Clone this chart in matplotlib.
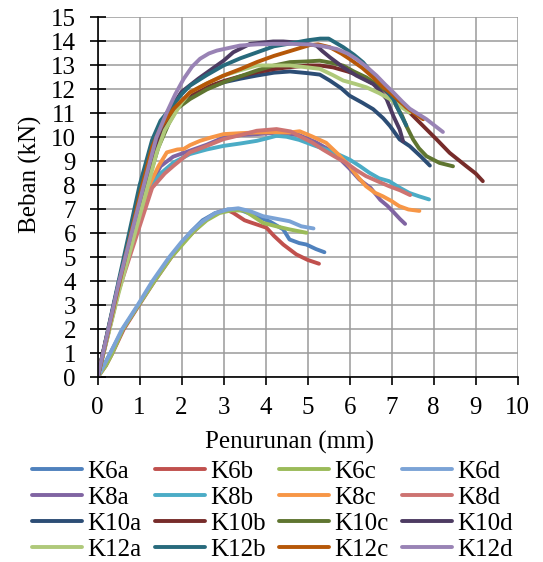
import matplotlib
matplotlib.use("Agg")
import matplotlib.pyplot as plt

plt.rcParams['font.family'] = ['Liberation Serif', 'DejaVu Serif']

# data: displacement (mm) and load (kN)
k6a_x = [0, 0.15, 0.3, 0.6, 0.97, 1.33, 1.73, 2.0, 2.24, 2.5, 2.8, 3.1, 3.4, 3.78, 4.1, 4.42, 4.57, 4.8, 4.97, 5.2, 5.4]
k6a_y = [0, 0.5, 1.0, 2.0, 3.0, 4.0, 5.0, 5.6, 6.1, 6.55, 6.85, 7.0, 6.98, 6.72, 6.5, 6.17, 5.75, 5.6, 5.54, 5.35, 5.22]
k6b_x = [0, 0.2, 0.35, 0.62, 0.98, 1.35, 1.75, 2.0, 2.3, 2.6, 2.9, 3.1, 3.23, 3.5, 3.63, 4.02, 4.2, 4.42, 4.73, 5.0, 5.27]
k6b_y = [0, 0.5, 1.0, 2.0, 3.0, 4.0, 5.0, 5.55, 6.1, 6.6, 6.9, 6.97, 6.86, 6.55, 6.47, 6.24, 5.9, 5.54, 5.13, 4.9, 4.74]
k6c_x = [0, 0.2, 0.35, 0.6, 0.97, 1.35, 1.75, 2.05, 2.3, 2.6, 2.9, 3.2, 3.5, 3.94, 4.3, 4.57, 4.97]
k6c_y = [0, 0.5, 1.0, 2.0, 3.0, 4.0, 5.0, 5.6, 6.1, 6.55, 6.85, 6.97, 6.95, 6.44, 6.28, 6.17, 6.03]
k6d_x = [0, 0.15, 0.3, 0.58, 0.95, 1.3, 1.7, 2.0, 2.24, 2.5, 2.8, 3.1, 3.35, 3.63, 3.94, 4.3, 4.57, 4.85, 5.14]
k6d_y = [0, 0.5, 1.0, 2.0, 3.0, 4.0, 5.0, 5.65, 6.1, 6.5, 6.85, 7.0, 7.05, 6.93, 6.72, 6.6, 6.51, 6.3, 6.21]

k8a_x = [0, 0.5, 1.2, 1.5, 1.8, 2.2, 2.6, 3.0, 3.4, 3.79, 4.3, 4.8, 5.2, 5.6, 6.0, 6.23, 6.5, 6.73, 6.9, 7.04, 7.2, 7.32]
k8a_y = [0, 3.6, 7.8, 8.8, 9.2, 9.45, 9.7, 10.0, 10.1, 10.14, 10.2, 10.1, 9.8, 9.4, 8.7, 8.25, 7.9, 7.4, 7.15, 6.9, 6.6, 6.4]
k8b_x = [0, 0.5, 1.28, 1.5, 1.81, 2.2, 2.6, 3.0, 3.4, 3.79, 4.0, 4.26, 4.5, 4.8, 5.2, 5.6, 6.0, 6.25, 6.47, 6.7, 6.94, 7.2, 7.42, 7.65, 7.89]
k8b_y = [0, 3.7, 8.0, 8.5, 8.96, 9.31, 9.5, 9.65, 9.75, 9.86, 9.95, 10.07, 10.03, 9.9, 9.64, 9.4, 9.08, 8.8, 8.53, 8.3, 8.18, 7.9, 7.69, 7.55, 7.42]
k8c_x = [0, 0.5, 1.2, 1.45, 1.65, 1.9, 2.05, 2.2, 2.44, 2.7, 3.0, 3.4, 3.79, 4.2, 4.58, 4.81, 5.1, 5.44, 5.7, 6.0, 6.2, 6.39, 6.6, 6.79, 7.0, 7.18, 7.4, 7.66]
k8c_y = [0, 3.7, 7.9, 8.8, 9.38, 9.5, 9.52, 9.68, 9.86, 10.0, 10.14, 10.18, 10.21, 10.22, 10.21, 10.26, 10.05, 9.78, 9.35, 8.8, 8.35, 7.97, 7.7, 7.55, 7.35, 7.14, 7.0, 6.94]
k8d_x = [0, 0.5, 1.3, 1.6, 1.81, 2.2, 2.6, 3.0, 3.4, 3.79, 4.26, 4.6, 4.81, 5.1, 5.36, 5.65, 5.92, 6.15, 6.39, 6.7, 6.94, 7.2, 7.44]
k8d_y = [0, 3.6, 7.9, 8.5, 8.82, 9.38, 9.65, 9.93, 10.1, 10.28, 10.35, 10.25, 10.05, 9.8, 9.5, 9.2, 8.94, 8.65, 8.39, 8.15, 7.97, 7.8, 7.6]

k10a_x = [0, 0.5, 1.05, 1.4, 1.7, 2.0, 2.2, 2.6, 3.0, 3.4, 3.79, 4.2, 4.58, 5.0, 5.29, 5.53, 5.8, 6.0, 6.3, 6.56, 6.8, 6.96, 7.19, 7.43, 7.7, 7.91]
k10a_y = [0, 3.9, 7.9, 9.8, 10.9, 11.45, 11.74, 12.05, 12.3, 12.45, 12.58, 12.7, 12.75, 12.68, 12.62, 12.37, 12.05, 11.74, 11.45, 11.18, 10.8, 10.48, 9.92, 9.64, 9.2, 8.83]
k10b_x = [0, 0.5, 1.1, 1.4, 1.7, 2.0, 2.2, 2.6, 3.0, 3.4, 3.79, 4.2, 4.58, 5.0, 5.3, 5.61, 5.95, 6.24, 6.5, 6.8, 7.1, 7.43, 7.75, 8.07, 8.38, 8.78, 9.0, 9.17]
k10b_y = [0, 3.8, 7.9, 9.7, 10.85, 11.5, 11.8, 12.1, 12.35, 12.55, 12.72, 12.85, 12.93, 13.0, 13.0, 12.92, 12.75, 12.58, 12.3, 12.02, 11.55, 11.04, 10.48, 9.92, 9.36, 8.8, 8.5, 8.18]
k10c_x = [0, 0.5, 1.1, 1.45, 1.7, 1.89, 2.2, 2.6, 3.0, 3.4, 3.79, 4.2, 4.58, 5.0, 5.29, 5.6, 5.85, 6.1, 6.4, 6.65, 6.88, 7.0, 7.11, 7.25, 7.35, 7.51, 7.65, 7.83, 8.14, 8.46]
k10c_y = [0, 3.7, 7.6, 9.6, 10.6, 11.2, 11.6, 12.0, 12.3, 12.55, 12.79, 13.0, 13.14, 13.17, 13.2, 13.1, 12.99, 12.75, 12.5, 12.2, 11.95, 11.7, 11.32, 10.9, 10.48, 9.92, 9.55, 9.22, 8.94, 8.8]
k10d_x = [0, 0.5, 1.05, 1.4, 1.7, 2.0, 2.4, 2.8, 3.0, 3.23, 3.63, 4.18, 4.42, 4.8, 5.21, 5.35, 5.53, 5.85, 6.16, 6.56, 6.72, 6.88, 7.04, 7.19, 7.27]
k10d_y = [0, 3.9, 7.9, 9.9, 11.1, 11.9, 12.45, 12.95, 13.2, 13.55, 13.9, 14.0, 14.0, 13.95, 13.83, 13.6, 13.34, 12.92, 12.58, 12.23, 11.95, 11.6, 10.9, 10.34, 9.85]

k12a_x = [0, 0.5, 1.2, 1.41, 1.6, 1.81, 2.0, 2.2, 2.6, 3.0, 3.4, 3.79, 4.2, 4.58, 5.0, 5.29, 5.6, 5.85, 6.1, 6.4, 6.7, 6.96, 7.2, 7.43]
k12a_y = [0, 3.5, 8.0, 9.38, 10.3, 10.9, 11.45, 11.88, 12.25, 12.58, 12.8, 13.0, 13.0, 13.0, 12.92, 12.86, 12.6, 12.37, 12.25, 12.09, 11.85, 11.6, 11.3, 11.04]
k12b_x = [0, 0.5, 1.0, 1.3, 1.5, 1.73, 2.0, 2.2, 2.6, 3.0, 3.4, 3.8, 4.2, 4.6, 5.0, 5.3, 5.5, 5.85, 6.1, 6.32, 6.5, 6.72, 6.9, 7.04, 7.19, 7.35]
k12b_y = [0, 4.0, 8.0, 9.9, 10.7, 11.2, 11.8, 12.16, 12.6, 13.0, 13.3, 13.55, 13.8, 13.92, 14.05, 14.12, 14.12, 13.76, 13.45, 13.13, 12.75, 12.3, 11.9, 11.6, 11.04, 10.5]
k12c_x = [0, 0.5, 1.05, 1.3, 1.5, 1.81, 2.2, 2.6, 3.0, 3.4, 3.79, 4.2, 4.58, 5.05, 5.25, 5.53, 5.8, 6.0, 6.3, 6.56, 6.8, 6.96, 7.2, 7.35, 7.55, 7.75]
k12c_y = [0, 3.8, 7.9, 9.6, 10.4, 11.19, 11.88, 12.25, 12.58, 12.85, 13.14, 13.4, 13.6, 13.85, 13.88, 13.76, 13.5, 13.27, 12.9, 12.5, 12.1, 11.88, 11.5, 11.25, 11.0, 10.76]
k12d_x = [0, 0.5, 1.1, 1.4, 1.65, 1.85, 2.05, 2.25, 2.44, 2.65, 2.84, 3.1, 3.39, 3.8, 4.18, 4.6, 5.0, 5.3, 5.69, 5.95, 6.16, 6.4, 6.64, 6.85, 7.04, 7.25, 7.43, 7.63, 7.83, 8.02, 8.22]
k12d_y = [0, 3.9, 8.0, 10.0, 11.05, 11.8, 12.44, 12.95, 13.28, 13.5, 13.62, 13.72, 13.83, 13.88, 13.9, 13.9, 13.88, 13.82, 13.69, 13.5, 13.27, 12.95, 12.58, 12.2, 11.88, 11.5, 11.2, 10.98, 10.76, 10.5, 10.23]

names = ['K6a', 'K6b', 'K6c', 'K6d', 'K8a', 'K8b', 'K8c', 'K8d',
         'K10a', 'K10b', 'K10c', 'K10d', 'K12a', 'K12b', 'K12c', 'K12d']
xs = [k6a_x, k6b_x, k6c_x, k6d_x, k8a_x, k8b_x, k8c_x, k8d_x,
      k10a_x, k10b_x, k10c_x, k10d_x, k12a_x, k12b_x, k12c_x, k12d_x]
ys = [k6a_y, k6b_y, k6c_y, k6d_y, k8a_y, k8b_y, k8c_y, k8d_y,
      k10a_y, k10b_y, k10c_y, k10d_y, k12a_y, k12b_y, k12c_y, k12d_y]
colors = ['#4F81BD', '#C0504D', '#9BBB59', '#7BA3D6', '#8064A2', '#4BACC6', '#F79646', '#CD7371',
          '#2C4D75', '#772C2A', '#5F7530', '#4D3B62', '#AFC97A', '#276A7C', '#B65708', '#9983B5']

fig = plt.figure(figsize=(5.43, 5.62), dpi=100)
ax = fig.add_axes([0.1796, 0.3283, 0.7738, 0.6406])

lines = []
for x, y, c, n in zip(xs, ys, colors, names):
    ln, = ax.plot(x, y, color=c, lw=2.8, label=n, solid_capstyle='round')
    lines.append(ln)

ax.set_xlim(0, 10)
ax.set_ylim(0, 15)
ax.set_xticks(range(0, 11))
ax.set_yticks(range(0, 16))
ax.grid(True, color='#9A9A9A', lw=1.1)
ax.set_axisbelow(True)
for s in ['top', 'right']:
    ax.spines[s].set_visible(False)
for s in ['left', 'bottom']:
    ax.spines[s].set_linewidth(1.2)

ax.tick_params(axis='y', direction='inout', length=11, width=1.2, pad=10, labelsize=18)
ax.tick_params(axis='x', direction='out', length=6, width=1.2, pad=8, labelsize=18)

ax.set_xlabel('Penurunan (mm)', fontsize=18)
ax.set_ylabel('Beban (kN)', fontsize=18)
ax.xaxis.set_label_coords(0.458, -0.148)
ax.yaxis.set_label_coords(-0.132, 0.565)

# legend filled row by row (matplotlib fills by column)
order = [r * 4 + c for c in range(4) for r in range(4)]
fig.legend([lines[i] for i in order], [names[i] for i in order],
           loc='center', bbox_to_anchor=(0.502, 0.092), ncol=4, fontsize=18,
           frameon=False, handlelength=2.0, handletextpad=0.2, columnspacing=0.55,
           labelspacing=0.14, borderpad=0)

fig.savefig('out.png', dpi=100)
